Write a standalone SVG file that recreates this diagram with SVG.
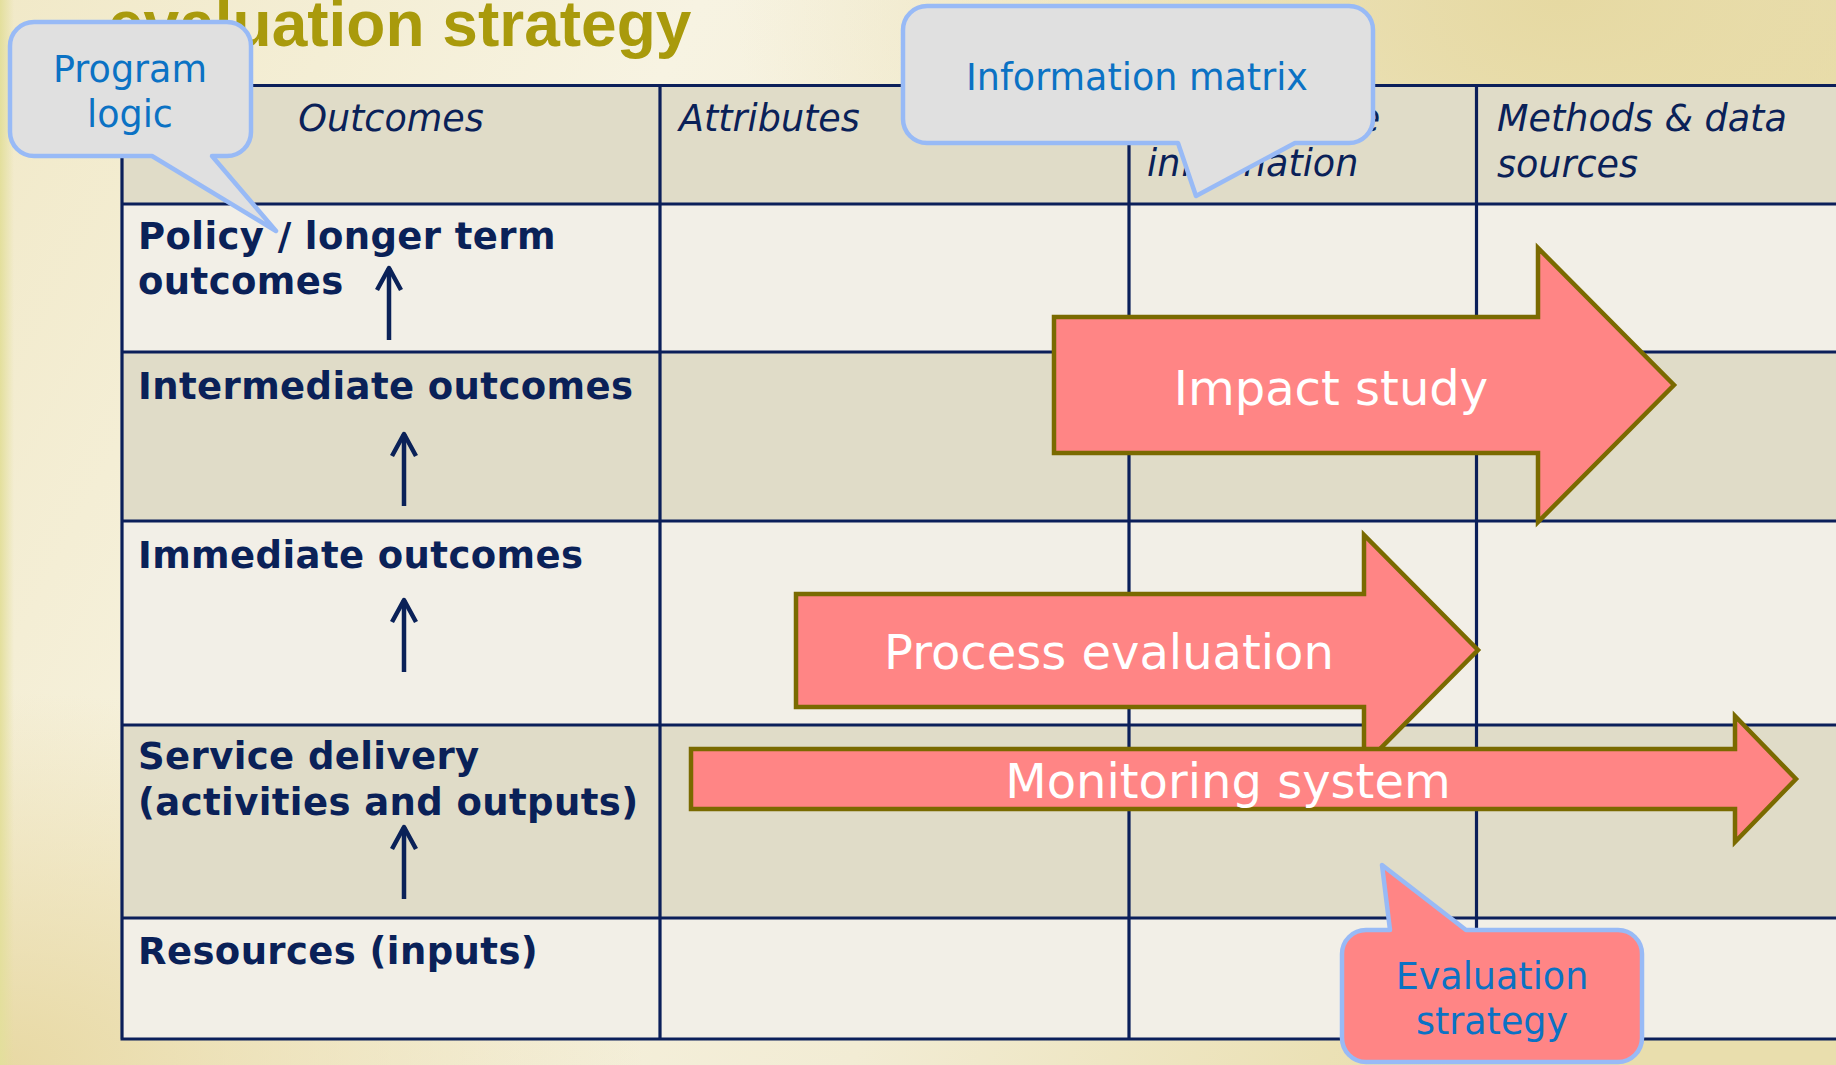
<svg xmlns="http://www.w3.org/2000/svg" width="1836" height="1065" viewBox="0 0 1836 1065">
<defs>
<linearGradient id="bg" x1="0" y1="0" x2="1" y2="0.3">
<stop offset="0" stop-color="#f1e9c8"/>
<stop offset="0.35" stop-color="#f7f3e2"/>
<stop offset="0.7" stop-color="#f2ecd4"/>
<stop offset="1" stop-color="#e9dead"/>
</linearGradient>
<linearGradient id="edge" x1="0" y1="0" x2="1" y2="0">
<stop offset="0" stop-color="#e3df9c"/>
<stop offset="1" stop-color="#e3df9c" stop-opacity="0"/>
</linearGradient>
<radialGradient id="tr" cx="0.85" cy="0" r="0.45">
<stop offset="0" stop-color="#e6d9a2"/>
<stop offset="1" stop-color="#e6d9a2" stop-opacity="0"/>
</radialGradient>
<radialGradient id="bl" cx="0" cy="1" r="0.35">
<stop offset="0" stop-color="#e8d9a4"/>
<stop offset="1" stop-color="#e8d9a4" stop-opacity="0"/>
</radialGradient>
<marker id="chev" markerUnits="userSpaceOnUse" viewBox="-28 -16 32 32" refX="0" refY="0" markerWidth="32" markerHeight="32" orient="auto">
<path d="M -22,-12 L 0,0 L -22,12" fill="none" stroke="#0a2158" stroke-width="4.5" stroke-linejoin="round" stroke-linecap="butt"/>
</marker>
<style>
.grid { stroke: #0b1f5a; stroke-width: 3.2; fill: none; }
.light { fill: #f2efe7; }
.beige { fill: #e0dcc8; }
.hdr { font-family: "DejaVu Sans", Verdana, sans-serif; font-style: italic; font-size: 36.5px; fill: #0a2158; }
.lbl { font-family: "DejaVu Sans", Verdana, sans-serif; font-weight: bold; font-size: 37px; letter-spacing: 0.4px; fill: #0a2158; }
.conn { stroke: #0a2158; stroke-width: 4.5; fill: none; marker-end: url(#chev); }
.big { fill: #ff8585; stroke: #7a6a00; stroke-width: 4.5; stroke-linejoin: miter; }
.bigt { font-family: "DejaVu Sans", Verdana, sans-serif; font-size: 48px; fill: #ffffff; text-anchor: middle; }
.call { fill: #e0e0e0; stroke: #98baf6; stroke-width: 4.5; stroke-linejoin: round; }
.callr { fill: #ff8585; stroke: #98baf6; stroke-width: 4.5; stroke-linejoin: round; }
.ct { font-family: "DejaVu Sans", Verdana, sans-serif; font-size: 36.5px; fill: #0b72c4; text-anchor: middle; }
.title { font-family: "Liberation Sans", Arial, sans-serif; font-weight: bold; font-size: 64px; fill: #a99a0c; }
</style>
</defs>

<rect x="0" y="0" width="1836" height="1065" fill="url(#bg)"/>
<rect x="0" y="0" width="1836" height="1065" fill="url(#tr)"/>
<rect x="0" y="0" width="1836" height="1065" fill="url(#bl)"/>
<rect x="0" y="0" width="14" height="1065" fill="url(#edge)"/>

<text class="title" x="108" y="46">evaluation strategy</text>

<g id="table">
<rect class="beige" x="122" y="85.5" width="1714" height="118.5"/>
<rect class="light" x="122" y="204" width="1714" height="148"/>
<rect class="beige" x="122" y="352" width="1714" height="169"/>
<rect class="light" x="122" y="521" width="1714" height="204"/>
<rect class="beige" x="122" y="725" width="1714" height="193"/>
<rect class="light" x="122" y="918" width="1714" height="121"/>
<path class="grid" d="M 122,85.5 H 1836 M 122,204 H 1836 M 122,352 H 1836 M 122,521 H 1836 M 122,725 H 1836 M 122,918 H 1836 M 120.5,1039 H 1836 M 122,85.5 V 1039 M 660,85.5 V 1039 M 1129,85.5 V 1039 M 1476.5,85.5 V 1039"/>
</g>

<g id="headers">
<text class="hdr" x="391" y="131" text-anchor="middle">Outcomes</text>
<text class="hdr" x="679" y="131">Attributes</text>
<text class="hdr" x="1147" y="131">Performance</text>
<text class="hdr" x="1147" y="176">information</text>
<text class="hdr" x="1497" y="131">Methods &amp; data</text>
<text class="hdr" x="1497" y="177">sources</text>
</g>

<g id="node-policy">
<text class="lbl" x="138" y="249">Policy / longer term</text>
<text class="lbl" x="138" y="294">outcomes</text>
</g>
<g id="node-intermediate">
<text class="lbl" x="138" y="399">Intermediate outcomes</text>
</g>
<g id="node-immediate">
<text class="lbl" x="138" y="568">Immediate outcomes</text>
</g>
<g id="node-service">
<text class="lbl" x="138" y="769">Service delivery</text>
<text class="lbl" x="138" y="815">(activities and outputs)</text>
</g>
<g id="node-resources">
<text class="lbl" x="138" y="964">Resources (inputs)</text>
</g>

<g id="connectors">
<path class="conn" d="M 389,340 V 268"/>
<path class="conn" d="M 404,506 V 434"/>
<path class="conn" d="M 404,672 V 600"/>
<path class="conn" d="M 404,899 V 827"/>
</g>

<g id="impact-study">
<path class="big" d="M 1054,317 H 1538 V 248 L 1674,385 L 1538,522 V 453 H 1054 Z"/>
<text class="bigt" x="1331" y="405">Impact study</text>
</g>
<g id="process-evaluation">
<path class="big" d="M 796,594 H 1364 V 535 L 1478,650 L 1364,765 V 707 H 796 Z"/>
<text class="bigt" x="1109" y="669">Process evaluation</text>
</g>
<g id="monitoring-system">
<path class="big" d="M 691,749 H 1735 V 716 L 1796,779 L 1735,842 V 809 H 691 Z"/>
<text class="bigt" x="1228" y="798">Monitoring system</text>
</g>

<g id="callout-program-logic">
<path class="call" d="M 34,22 H 227 A 24 24 0 0 1 251,46 V 132 A 24 24 0 0 1 227,156 H 212 L 276,231 L 152,156 H 34 A 24 24 0 0 1 10,132 V 46 A 24 24 0 0 1 34,22 Z"/>
<text class="ct" x="130" y="82">Program</text>
<text class="ct" x="130" y="127">logic</text>
</g>
<g id="callout-information-matrix">
<path class="call" d="M 927,6 H 1349 A 24 24 0 0 1 1373,30 V 119 A 24 24 0 0 1 1349,143 H 1295 L 1196,196 L 1178,143 H 927 A 24 24 0 0 1 903,119 V 30 A 24 24 0 0 1 927,6 Z"/>
<text class="ct" x="1137" y="90">Information matrix</text>
</g>
<g id="callout-evaluation-strategy">
<path class="callr" d="M 1366,930 H 1390 L 1382,865 L 1466,930 H 1618 A 24 24 0 0 1 1642,954 V 1038 A 24 24 0 0 1 1618,1062 H 1366 A 24 24 0 0 1 1342,1038 V 954 A 24 24 0 0 1 1366,930 Z"/>
<text class="ct" x="1492" y="989">Evaluation</text>
<text class="ct" x="1492" y="1034">strategy</text>
</g>
</svg>
